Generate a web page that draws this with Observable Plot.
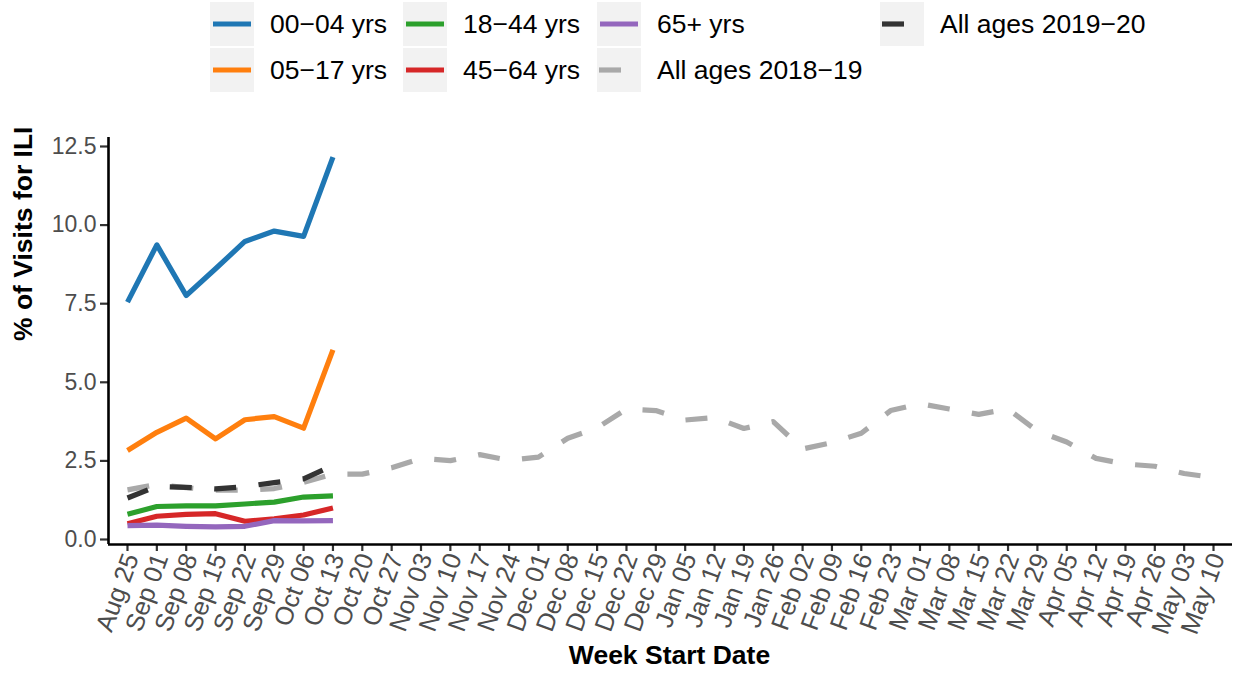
<!DOCTYPE html>
<html>
<head>
<meta charset="utf-8">
<script src="https://cdn.jsdelivr.net/npm/d3@7"></script>
<script src="https://cdn.jsdelivr.net/npm/@observablehq/plot@0.6"></script>
<style>
  body { margin: 0; background: #fff; font-family: "Liberation Sans", Arial, Helvetica, sans-serif; }
  #wrap { position: relative; width: 1233px; height: 681px; overflow: hidden; }
  #legend { position: relative; width: 1233px; height: 95px; }
  .item { position: absolute; display: flex; align-items: center; height: 44px; }
  .item svg { display: block; }
  .lbl { font-size: 26.5px; color: #000; margin-left: 16px; white-space: nowrap; }
</style>
</head>
<body>
<div id="wrap">
  <div id="legend"></div>
  <div id="chart"></div>
</div>
<script>
// ---- Data ----
const weekLabels = ["Aug 25","Sep 01","Sep 08","Sep 15","Sep 22","Sep 29","Oct 06","Oct 13","Oct 20","Oct 27",
  "Nov 03","Nov 10","Nov 17","Nov 24","Dec 01","Dec 08","Dec 15","Dec 22","Dec 29","Jan 05",
  "Jan 12","Jan 19","Jan 26","Feb 02","Feb 09","Feb 16","Feb 23","Mar 01","Mar 08","Mar 15",
  "Mar 22","Mar 29","Apr 05","Apr 12","Apr 19","Apr 26","May 03","May 10"];

const age0004  = [7.55, 9.37, 7.76, 8.61, 9.48, 9.81, 9.64, 12.16];
const age0517  = [2.83, 3.41, 3.86, 3.20, 3.81, 3.91, 3.54, 6.03];
const age1844  = [0.80, 1.05, 1.07, 1.07, 1.13, 1.19, 1.35, 1.39];
const age4564  = [0.50, 0.74, 0.80, 0.82, 0.58, 0.66, 0.78, 1.00];
const age65p   = [0.44, 0.46, 0.42, 0.40, 0.42, 0.60, 0.59, 0.60];
const all1920  = [1.32, 1.69, 1.66, 1.61, 1.68, 1.81, 1.93, 2.35];
const all1819  = [1.58, 1.75, 1.65, 1.57, 1.57, 1.62, 1.82, 2.08, 2.08, 2.28,
  2.58, 2.51, 2.70, 2.52, 2.62, 3.22, 3.55, 4.15, 4.10, 3.80,
  3.88, 3.53, 3.75, 2.88, 3.08, 3.38, 4.10, 4.32, 4.15, 3.98,
  4.15, 3.45, 3.10, 2.58, 2.40, 2.33, 2.10, 1.97];

const yTicks = [0, 2.5, 5, 7.5, 10, 12.5];

const seriesNames  = ["00−04 yrs", "05−17 yrs", "18−44 yrs", "45−64 yrs", "65+ yrs", "All ages 2018−19", "All ages 2019−20"];
const seriesValues = [age0004, age0517, age1844, age4564, age65p, all1819, all1920];
const seriesColors = ["#1f77b4", "#ff7f0e", "#2ca02c", "#d62728", "#9467bd", "#a9a9a9", "#333333"];
const seriesDashed = [false, false, false, false, false, true, true];

// ---- Build dates from labels (2019–20 season) ----
const parse = d3.utcParse("%b %d %Y");
const dates = weekLabels.map(l => parse(l + (/^(Aug|Sep|Oct|Nov|Dec)/.test(l) ? " 2019" : " 2020")));
const DAY = 24 * 3600 * 1000;
const pad = 0.647 * 7 * DAY;
const xDomain = [new Date(+dates[0] - pad), new Date(+dates[dates.length - 1] + pad)];
const yDomain = [-0.159, 12.786];

const LW = 5.2;
const DASH = "22 22.5";

// ---- Legend (HTML) ----
const legendPos = [
  {left: 210, top: 2}, {left: 210, top: 48},
  {left: 403, top: 2}, {left: 403, top: 48},
  {left: 597, top: 2}, {left: 597, top: 48},
  {left: 880, top: 2}
];
const legend = document.getElementById("legend");
seriesNames.forEach((name, i) => {
  const it = document.createElement("div");
  it.className = "item";
  it.style.left = legendPos[i].left + "px";
  it.style.top = legendPos[i].top + "px";
  const dash = seriesDashed[i] ? ` stroke-dasharray="${DASH}"` : "";
  it.innerHTML = `<svg width="44" height="44"><rect width="44" height="44" fill="#f2f2f2"/>` +
    `<line x1="${seriesDashed[i] ? 2 : 3}" x2="41" y1="22" y2="22" stroke="${seriesColors[i]}" stroke-width="${LW}"${dash}/></svg>` +
    `<span class="lbl">${name}</span>`;
  legend.appendChild(it);
});

// ---- Chart ----
const lineMarks = seriesValues.map((vals, i) => {
  const data = vals.map((v, k) => ({date: dates[k], value: v}));
  return Plot.line(data, {
    x: "date", y: "value",
    stroke: seriesColors[i],
    strokeWidth: LW,
    strokeLinecap: "butt",
    strokeLinejoin: "round",
    strokeDasharray: seriesDashed[i] ? DASH : null
  });
});

const chart = Plot.plot({
  width: 1233,
  height: 586,
  marginTop: 42,
  marginBottom: 137,
  marginLeft: 108,
  marginRight: 1,
  style: {fontFamily: "'Liberation Sans', Arial, Helvetica, sans-serif", background: "#fff", overflow: "visible"},
  x: {type: "utc", domain: xDomain},
  y: {domain: yDomain},
  marks: [
    Plot.axisY({ticks: yTicks, tickFormat: d => d.toFixed(1), tickSize: 8, tickPadding: 4,
      fontSize: 23, stroke: "#333", fill: "#4d4d4d", strokeWidth: 2.2, label: null}),
    // tick marks only
    Plot.axisX({ticks: dates, tickFormat: () => "", tickSize: 7,
      stroke: "#333", strokeWidth: 2.2, label: null}),
    // tick labels only
    Plot.axisX({ticks: dates, tickFormat: d3.utcFormat("%b %d"), tickRotate: -70, tickSize: 0, tickPadding: 10,
      dx: 4, fontSize: 25.5, fill: "#4d4d4d", label: null}),
    Plot.ruleY([yDomain[0]], {stroke: "#000", strokeWidth: 2.6}),
    Plot.ruleX([xDomain[0]], {stroke: "#000", strokeWidth: 2.6}),
    ...lineMarks,
    Plot.text(["Week Start Date"], {frameAnchor: "bottom", text: d => d, dy: 119, dx: -1,
      fontSize: 26.5, fontWeight: "bold", fill: "#000"}),
    Plot.text(["% of Visits for ILI"], {frameAnchor: "left", text: d => d, rotate: -90, dx: -85,
      fontSize: 26.5, fontWeight: "bold", fill: "#000"})
  ]
});
document.getElementById("chart").appendChild(chart);
</script>
</body>
</html>
